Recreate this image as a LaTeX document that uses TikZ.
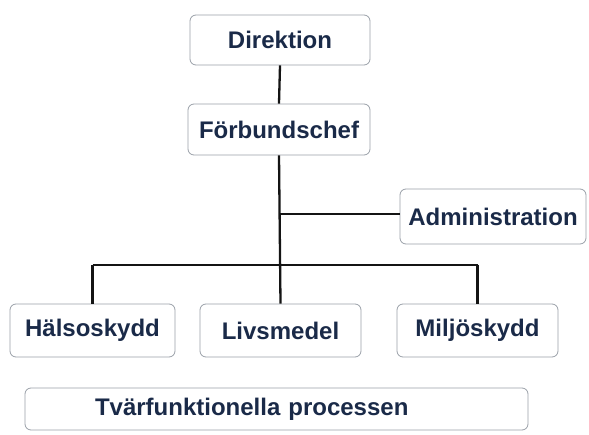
\documentclass[tikz,border=0pt]{standalone}
\usepackage{fontspec}
\setmainfont{Liberation Sans}
\definecolor{txtnavy}{HTML}{1A2A48}
\definecolor{linecol}{HTML}{141414}
\definecolor{boxcol}{HTML}{9AA0A8}
\begin{document}
\begin{tikzpicture}[x=1pt,y=-1pt,
  orgbox/.style={draw=boxcol, line width=0.8pt, rounded corners=6pt, fill=white,
    text=txtnavy, font=\fontsize{24}{27}\selectfont\bfseries,
    inner sep=0pt, anchor=center},
  conn/.style={draw=linecol, line width=2.3pt}]
\useasboundingbox (0,0) rectangle (589,435);
\node[orgbox, minimum width=180pt, minimum height=50pt] (dir) at (280,40) {Direktion};
\node[orgbox, minimum width=182pt, minimum height=51pt] (chef) at (279,129.5) {Förbundschef};
\node[orgbox, minimum width=186pt, minimum height=55pt] (adm) at (493,216.5) {Administration};
\node[orgbox, minimum width=165pt, minimum height=53pt] (hal) at (92.5,330.5) {Hälsoskydd};
\node[orgbox, minimum width=161pt, minimum height=53pt] (liv) at (280.5,330.5) {Livsmedel};
\node[orgbox, minimum width=161pt, minimum height=53pt] (mil) at (477.5,330.5) {Miljöskydd};
\node[orgbox, text width=363pt, inner xsep=70pt, align=left, minimum height=42pt] (tvar) at (276.5,409) {Tvärfunktionella processen};
\coordinate (admj) at (280,214);
\coordinate (busl) at (92.5,265);
\coordinate (busr) at (477.5,265);
\draw[conn] (dir.south) -- (chef.north);
\draw[conn] (chef.south) -- (liv.north);
\draw[conn] (admj) -- (admj -| adm.west);
\draw[conn] (busl) -- (busr);
\draw[conn] (busl) -- (hal.north);
\draw[conn] (busr) -- (mil.north);
\end{tikzpicture}
\end{document}
